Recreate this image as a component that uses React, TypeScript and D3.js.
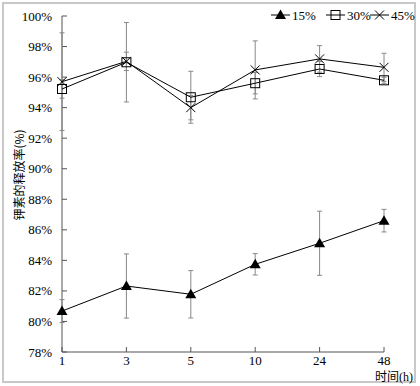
import React from "react";
import * as d3 from "d3";

// 时间(h)
const times = ["1", "3", "5", "10", "24", "48"];
const yTicks = [78, 80, 82, 84, 86, 88, 90, 92, 94, 96, 98, 100];

// 释放率 (%) 与误差
const s15 = [80.68, 82.32, 81.78, 83.74, 85.12, 86.6];
const e15 = [0.75, 2.1, 1.55, 0.7, 2.1, 0.74];
const s30 = [95.22, 96.97, 94.68, 95.6, 96.53, 95.79];
const e30 = [0.6, 2.6, 1.7, 0.7, 0.5, 0.2];
const s45 = [95.7, 97.03, 94.0, 96.47, 97.19, 96.64];
const e45 = [3.2, 0.6, 0.8, 1.9, 0.87, 0.92];

const seriesNames = ["15%", "30%", "45%"];

const FONT = "'Liberation Serif', 'DejaVu Serif', 'Noto Sans CJK SC', serif";

const Marker = ({ type, x, y }: { type: string; x: number; y: number }) => {
  if (type === "15%") {
    return <path d={`M${x},${y - 5.5}L${x + 5.5},${y + 4}L${x - 5.5},${y + 4}Z`} fill="#000" />;
  }
  if (type === "30%") {
    return <rect x={x - 4.5} y={y - 4.5} width={9} height={9} fill="none" stroke="#000" strokeWidth={1} />;
  }
  return (
    <path d={`M${x - 4.5},${y - 4.5}L${x + 4.5},${y + 4.5}M${x - 4.5},${y + 4.5}L${x + 4.5},${y - 4.5}`} stroke="#000" strokeWidth={1} />
  );
};

const App = () => {
  const width = 420;
  const height = 386;
  const x = d3.scalePoint<string>().domain(times).range([62, 384]);
  const y = d3.scaleLinear().domain([78, 100]).range([352, 16]);
  const line = d3
    .line<number>()
    .x((_, i) => x(times[i]) as number)
    .y((d) => y(d));

  const all = [
    { name: "15%", vals: s15, errs: e15 },
    { name: "30%", vals: s30, errs: e30 },
    { name: "45%", vals: s45, errs: e45 },
  ];

  const legendX = [271, 326, 370];

  return (
    <svg width={width} height={height} style={{ position: "absolute", left: 0, top: 0, background: "#fff" }} fontFamily={FONT}>
      <rect x={3} y={3} width={412} height={379} fill="#fff" stroke="#c8c8c8" strokeWidth={2} />

      {/* y axis */}
      <line x1={62} x2={62} y1={y(100)} y2={y(78)} stroke="#555" />
      {yTicks.map((t) => (
        <g key={t}>
          <line x1={62} x2={67} y1={y(t)} y2={y(t)} stroke="#555" />
          <text x={52} y={y(t)} textAnchor="end" dominantBaseline="central" fontSize={13}>
            {t}%
          </text>
        </g>
      ))}

      {/* x axis */}
      <line x1={62} x2={384} y1={352} y2={352} stroke="#555" />
      {times.map((t) => (
        <g key={t}>
          <line x1={x(t)} x2={x(t)} y1={352} y2={347} stroke="#555" />
          <text x={x(t)} y={365} textAnchor="middle" fontSize={13}>
            {t}
          </text>
        </g>
      ))}

      {/* error bars */}
      {all.map((s) =>
        s.vals.map((v, i) => {
          const cx = x(times[i]) as number;
          const y1 = y(v + s.errs[i]);
          const y2 = y(v - s.errs[i]);
          return (
            <g key={s.name + i} stroke="#888" strokeWidth={1}>
              <line x1={cx} x2={cx} y1={y1} y2={y2} />
              <line x1={cx - 2.5} x2={cx + 2.5} y1={y1} y2={y1} />
              <line x1={cx - 2.5} x2={cx + 2.5} y1={y2} y2={y2} />
            </g>
          );
        })
      )}

      {/* lines */}
      {all.map((s) => (
        <path key={s.name} d={line(s.vals) || ""} fill="none" stroke="#000" strokeWidth={1} />
      ))}
      {all.map((s) =>
        s.vals.map((v, i) => <Marker key={s.name + "m" + i} type={s.name} x={x(times[i]) as number} y={y(v)} />)
      )}

      {/* legend */}
      {seriesNames.map((n, i) => (
        <g key={n}>
          <line x1={legendX[i]} x2={legendX[i] + 19} y1={15} y2={15} stroke="#000" />
          <Marker type={n} x={legendX[i] + 9.5} y={15} />
          <text x={legendX[i] + 21} y={15} dominantBaseline="central" fontSize={13}>
            {n}
          </text>
        </g>
      ))}

      {/* titles */}
      <text x={413} y={381} textAnchor="end" fontSize={12} fontFamily="'Noto Sans CJK SC', sans-serif">
        时间<tspan fontFamily={FONT}>(h)</tspan>
      </text>
      <text
        transform="translate(18,175) rotate(-90)"
        textAnchor="middle"
        dominantBaseline="central"
        fontSize={12}
        fontFamily="'Noto Sans CJK SC', sans-serif"
      >
        钾素的释放率(%)
      </text>
    </svg>
  );
};

export default App;
